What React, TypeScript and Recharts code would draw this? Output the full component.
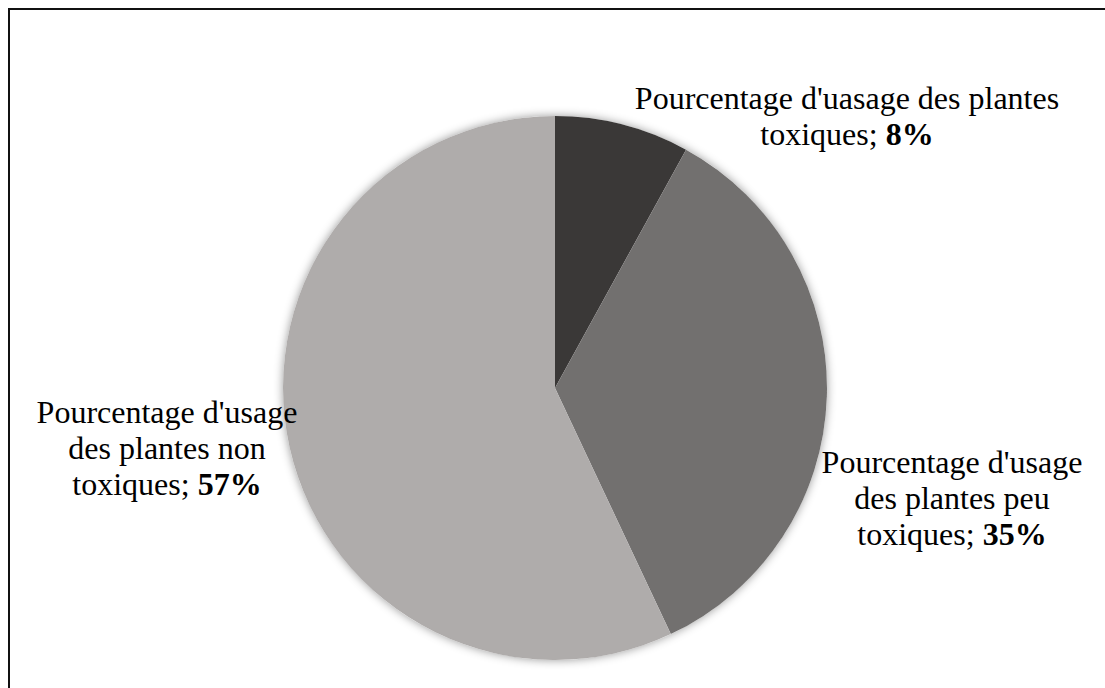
import React from "react";
import { PieChart, Pie, Cell } from "recharts";

const categories = [
  "Pourcentage d'uasage des plantes toxiques",
  "Pourcentage d'usage des plantes peu toxiques",
  "Pourcentage d'usage des plantes non toxiques",
];
const values = [8, 35, 57];
const colors = ["#3a3837", "#72706f", "#afacab"];
const labelLines = [
  ["Pourcentage d'uasage des plantes", "toxiques; "],
  ["Pourcentage d'usage", "des plantes peu", "toxiques; "],
  ["Pourcentage d'usage", "des plantes non", "toxiques; "],
];
const shadowData = [{ name: "shadow", value: 1 }];

const LABEL_OFFSETS = [
  { dx: 292, dy: -279 },
  { dx: 397, dy: 85 },
  { dx: -388, dy: 35 },
];
const LINE_H = 36;
const FONT = "Liberation Serif, Times New Roman, serif";

const data = categories.map((name, i) => ({ name, value: values[i] }));

const renderLabel = (props: any) => {
  const { cx, cy, index, value } = props;
  const off = LABEL_OFFSETS[index];
  const x = cx + off.dx;
  const y = cy + off.dy;
  const lines = labelLines[index];
  return (
    <text
      x={x}
      y={y}
      textAnchor="middle"
      fill="#000"
      fontFamily={FONT}
      fontSize={32}
      style={{ whiteSpace: "pre" }}
    >
      {lines.map((ln, j) =>
        j < lines.length - 1 ? (
          <tspan key={j} x={x} y={y + j * LINE_H}>
            {ln}
          </tspan>
        ) : (
          <React.Fragment key={j}>
            <tspan x={x} y={y + j * LINE_H}>
              {ln}
            </tspan>
            <tspan fontWeight="bold">{`${value}%`}</tspan>
          </React.Fragment>
        )
      )}
    </text>
  );
};

export default function App() {
  return (
    <div
      style={{
        position: "fixed",
        left: 0,
        top: 0,
        width: 1105,
        height: 688,
        overflow: "hidden",
        background: "#fff",
      }}
    >
      <style>{`.shadow-pie path { filter: drop-shadow(0px 0px 5px rgba(0,0,0,0.4)); }`}</style>
      <div
        style={{
          position: "absolute",
          left: 8,
          top: 8,
          width: 1200,
          height: 800,
          borderLeft: "2px solid #111",
          borderTop: "2px solid #111",
        }}
      />
      <div style={{ position: "absolute", left: 0, top: 0 }}>
        <PieChart width={1105} height={688} margin={{ top: 0, right: 0, bottom: 0, left: 0 }}>
          <Pie
            className="shadow-pie"
            data={shadowData}
            dataKey="value"
            cx={555}
            cy={388}
            outerRadius={272}
            startAngle={90}
            endAngle={-270}
            stroke="none"
            fill="#ffffff"
            isAnimationActive={false}
            label={false}
            labelLine={false}
          />
          <Pie
            data={data}
            dataKey="value"
            nameKey="name"
            cx={555}
            cy={388}
            outerRadius={272}
            startAngle={90}
            endAngle={-270}
            stroke="none"
            isAnimationActive={false}
            label={renderLabel}
            labelLine={false}
          >
            {data.map((d, i) => (
              <Cell key={d.name} fill={colors[i]} />
            ))}
          </Pie>
        </PieChart>
      </div>
    </div>
  );
}
